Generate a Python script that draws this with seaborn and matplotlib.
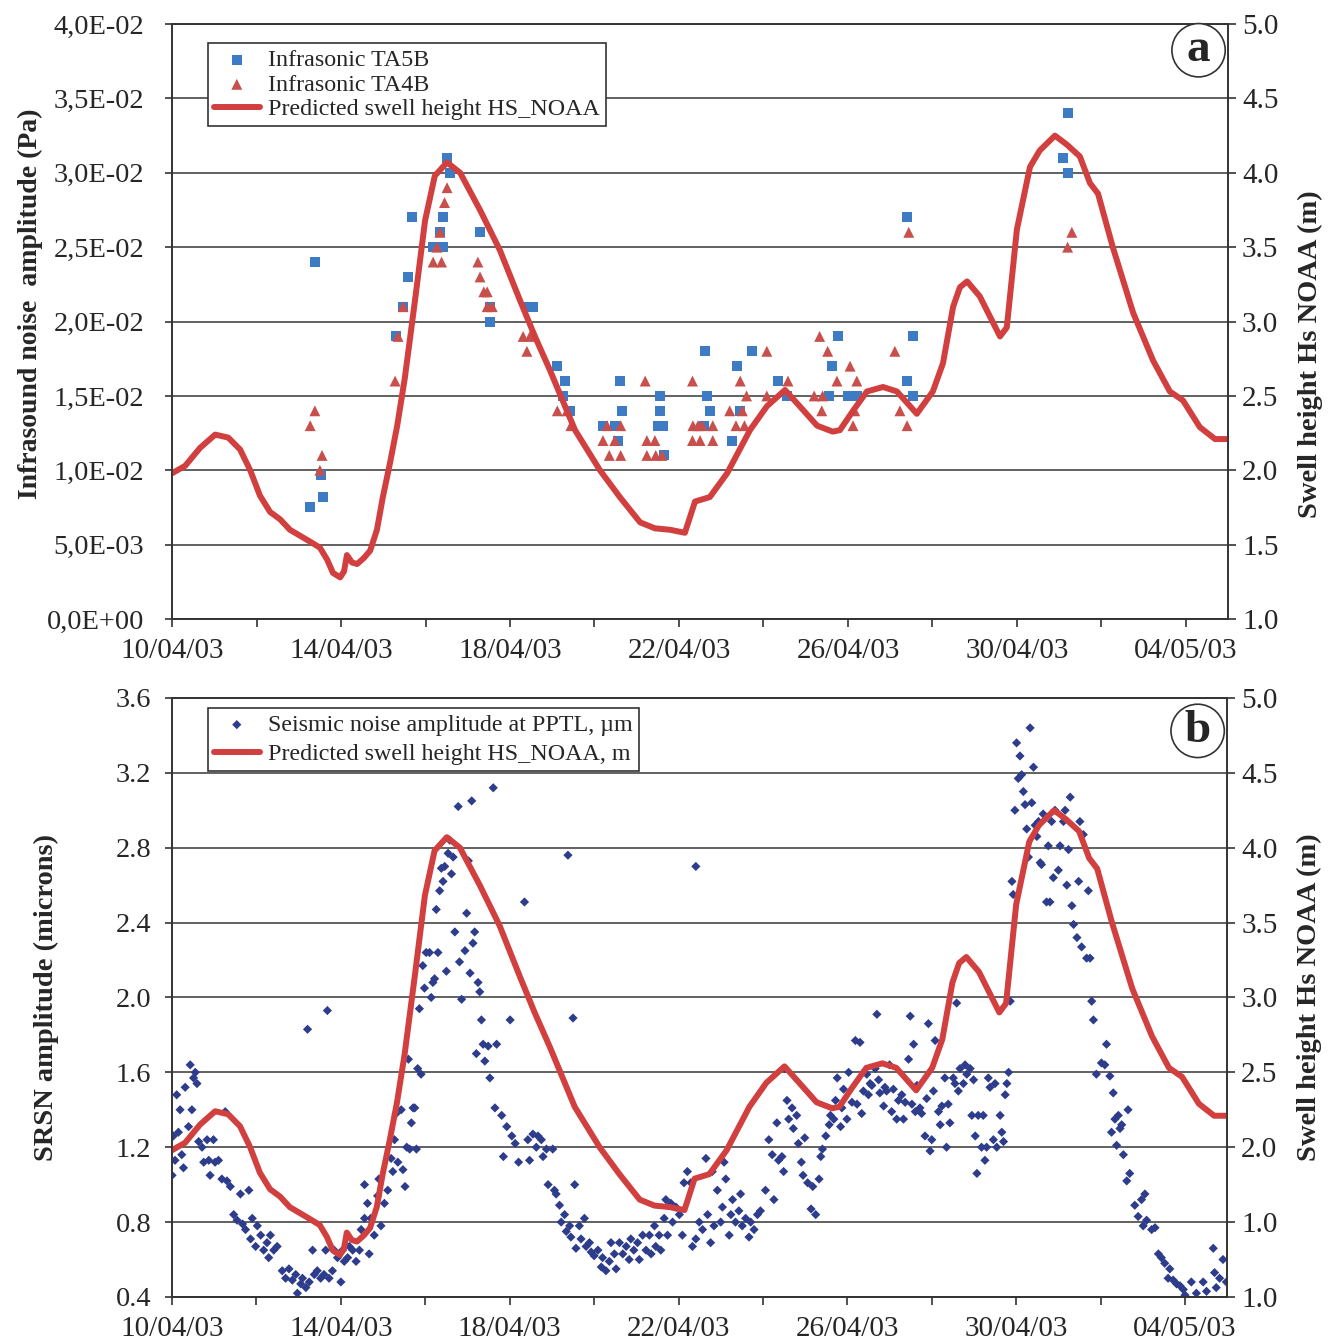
import numpy as np
import pandas as pd
import seaborn as sns
import matplotlib
matplotlib.use('Agg')
import matplotlib.pyplot as plt

# ------------------------------------------------------------
# data (x in days after 10/04/03 00:00)
# ------------------------------------------------------------
start = pd.Timestamp('2003-04-10')
date_labels = ['10/04/03', '14/04/03', '18/04/03', '22/04/03',
               '26/04/03', '30/04/03', '04/05/03']

# predicted swell height HS_NOAA (m)
swell_day = [0.0, 0.31, 0.66, 1.02, 1.33, 1.61, 1.85, 2.08, 2.32, 2.56,
             2.79, 3.03, 3.27, 3.50, 3.67, 3.81, 3.98, 4.07, 4.14, 4.26,
             4.38, 4.54, 4.69, 4.85, 4.99, 5.16, 5.33, 5.51, 5.75, 5.99,
             6.22, 6.51, 6.82, 7.29, 7.76, 8.24, 8.59, 8.95, 9.54, 10.13,
             10.60, 11.08, 11.43, 11.79, 12.14, 12.38, 12.73, 13.14, 13.68, 14.08,
             14.51, 14.86, 15.27, 15.64, 15.81, 16.12, 16.45, 16.83, 17.16, 17.63,
             18.01, 18.25, 18.49, 18.65, 18.82, 19.12, 19.60, 19.76, 20.00, 20.31,
             20.54, 20.90, 21.18, 21.49, 21.73, 21.92, 22.27, 22.75, 23.22, 23.62,
             23.93, 24.33, 24.69, 25.0]
swell_hs = [1.98, 2.03, 2.15, 2.24, 2.22, 2.14, 2.00, 1.83, 1.72, 1.67,
            1.60, 1.56, 1.52, 1.48, 1.40, 1.31, 1.28, 1.32, 1.43, 1.38,
            1.37, 1.41, 1.46, 1.60, 1.82, 2.05, 2.30, 2.62, 3.14, 3.68,
            3.98, 4.07, 4.00, 3.75, 3.48, 3.14, 2.90, 2.67, 2.27, 2.00,
            1.82, 1.65, 1.61, 1.60, 1.58, 1.79, 1.82, 1.98, 2.27, 2.43,
            2.54, 2.43, 2.30, 2.26, 2.27, 2.40, 2.53, 2.56, 2.53, 2.38,
            2.53, 2.72, 3.10, 3.23, 3.27, 3.17, 2.90, 2.96, 3.62, 4.04,
            4.15, 4.25, 4.19, 4.11, 3.93, 3.86, 3.50, 3.06, 2.74, 2.53,
            2.47, 2.29, 2.21, 2.21]

# infrasound amplitude (Pa)
ta5b_day = [3.27, 3.38, 3.52, 3.58, 5.30, 5.47, 5.59, 5.69, 6.18, 6.34,
            6.41, 6.51, 6.58, 6.41, 7.29, 7.53, 7.53, 8.54, 8.42, 9.12,
            9.30, 9.26, 9.42, 10.20, 10.48, 10.60, 10.65, 10.55, 11.55, 11.55,
            11.50, 11.62, 11.65, 12.62, 12.66, 12.73, 12.60, 13.37, 13.25, 13.45,
            13.73, 14.34, 14.55, 15.76, 15.62, 15.55, 16.21, 16.00, 17.40, 17.40,
            17.55, 17.55, 21.20, 21.08, 21.20]
ta5b_amp = [0.0075, 0.024, 0.0097, 0.0082, 0.019, 0.021, 0.023, 0.027, 0.025, 0.026,
            0.027, 0.031, 0.030, 0.025, 0.026, 0.020, 0.021, 0.021, 0.021, 0.017,
            0.016, 0.015, 0.014, 0.013, 0.013, 0.016, 0.014, 0.012, 0.015, 0.014,
            0.013, 0.013, 0.011, 0.018, 0.015, 0.014, 0.013, 0.017, 0.012, 0.014,
            0.018, 0.016, 0.015, 0.019, 0.017, 0.015, 0.015, 0.015, 0.027, 0.016,
            0.019, 0.015, 0.034, 0.031, 0.030]
ta4b_day = [3.27, 3.38, 3.55, 3.50, 5.28, 5.35, 5.47, 6.18, 6.38, 6.27,
            6.34, 6.45, 6.51, 7.24, 7.29, 7.46, 7.46, 7.58, 7.38, 8.31,
            8.40, 8.47, 9.12, 9.44, 9.35, 10.20, 10.35, 10.48, 10.62, 10.62,
            10.30, 11.20, 11.24, 11.43, 11.24, 11.45, 11.60, 12.32, 12.33, 12.45,
            12.55, 12.80, 12.32, 12.50, 12.80, 13.45, 13.60, 13.20, 13.50, 13.35,
            13.55, 14.08, 14.58, 14.08, 15.33, 15.52, 16.05, 15.74, 16.21, 15.20,
            15.40, 15.38, 16.16, 16.12, 17.11, 17.23, 17.40, 17.44, 21.30, 21.20]
ta4b_amp = [0.013, 0.014, 0.011, 0.010, 0.016, 0.019, 0.021, 0.024, 0.024, 0.025,
            0.026, 0.028, 0.029, 0.024, 0.023, 0.022, 0.021, 0.021, 0.022, 0.019,
            0.018, 0.019, 0.014, 0.013, 0.014, 0.012, 0.011, 0.012, 0.011, 0.013,
            0.013, 0.016, 0.012, 0.012, 0.011, 0.011, 0.011, 0.016, 0.013, 0.013,
            0.013, 0.013, 0.012, 0.012, 0.012, 0.016, 0.015, 0.014, 0.014, 0.013,
            0.013, 0.018, 0.016, 0.015, 0.019, 0.018, 0.017, 0.016, 0.016, 0.015,
            0.015, 0.014, 0.014, 0.013, 0.018, 0.014, 0.013, 0.026, 0.026, 0.025]

# seismic noise amplitude at PPTL (microns)
seis_day = [
    0.00, 0.03, 0.07, 0.11, 0.15, 0.19, 0.23, 0.27, 0.31, 0.39, 0.43, 0.47, 0.51, 0.55, 0.59,
    0.63, 0.71, 0.75, 0.83, 0.87, 0.90, 0.98, 1.02, 1.10, 1.18, 1.26, 1.30, 1.38, 1.46, 1.54,
    1.62, 1.67, 1.74, 1.82, 1.86, 1.90, 1.98, 2.02, 2.10, 2.17, 2.25, 2.29, 2.33, 2.41, 2.49,
    2.61, 2.69, 2.77, 2.85, 2.93, 2.97, 3.05, 3.09, 3.17, 3.21, 3.25, 3.33, 3.37, 3.44, 3.52,
    3.60, 3.64, 3.68, 3.72, 3.80, 3.84, 3.92, 4.00, 4.04, 4.08, 4.16, 4.20, 4.28, 4.36, 4.44,
    4.48, 4.56, 4.56, 4.63, 4.67, 4.71, 4.79, 4.87, 4.90, 4.95, 5.03, 5.11, 5.19, 5.23, 5.27,
    5.31, 5.35, 5.43, 5.47, 5.52, 5.56, 5.60, 5.63, 5.67, 5.71, 5.75, 5.79, 5.82, 5.86, 5.90,
    5.94, 5.98, 6.02, 6.10, 6.14, 6.18, 6.22, 6.26, 6.30, 6.34, 6.38, 6.42, 6.46, 6.50, 6.54,
    6.58, 6.62, 6.66, 6.70, 6.78, 6.81, 6.86, 6.94, 6.98, 7.02, 7.06, 7.10, 7.13, 7.17, 7.21,
    7.25, 7.29, 7.33, 7.37, 7.41, 7.49, 7.53, 7.61, 7.65, 7.69, 7.81, 7.85, 7.93, 8.01, 8.05,
    8.13, 8.21, 8.35, 8.43, 8.47, 8.55, 8.63, 8.67, 8.75, 8.79, 8.87, 8.91, 9.02, 9.06, 9.10,
    9.18, 9.22, 9.30, 9.34, 9.38, 9.42, 9.45, 9.50, 9.54, 9.57, 9.65, 9.69, 9.77, 9.81, 9.89,
    9.93, 10.00, 10.09, 10.17, 10.20, 10.28, 10.36, 10.40, 10.48, 10.52, 10.60, 10.68, 10.76, 10.83, 10.87,
    10.94, 11.03, 11.07, 11.15, 11.23, 11.31, 11.35, 11.43, 11.46, 11.54, 11.58, 11.66, 11.70, 11.74, 11.82,
    11.86, 11.94, 12.02, 12.09, 12.13, 12.21, 12.29, 12.33, 12.41, 12.41, 12.49, 12.57, 12.65, 12.69, 12.76,
    12.80, 12.84, 12.92, 13.00, 13.04, 13.08, 13.12, 13.20, 13.24, 13.28, 13.35, 13.43, 13.47, 13.51, 13.59,
    13.67, 13.71, 13.79, 13.87, 13.94, 14.06, 14.14, 14.22, 14.26, 14.33, 14.37, 14.45, 14.49, 14.52, 14.57,
    14.61, 14.69, 14.72, 14.80, 14.84, 14.91, 14.95, 14.99, 15.06, 15.14, 15.18, 15.25, 15.33, 15.37, 15.41,
    15.49, 15.57, 15.60, 15.68, 15.72, 15.76, 15.84, 15.87, 15.91, 15.99, 16.03, 16.11, 16.19, 16.23, 16.30,
    16.34, 16.38, 16.46, 16.50, 16.54, 16.58, 16.66, 16.70, 16.74, 16.77, 16.86, 16.89, 16.93, 17.00, 17.05,
    17.09, 17.17, 17.21, 17.29, 17.33, 17.37, 17.45, 17.49, 17.53, 17.57, 17.61, 17.65, 17.72, 17.76, 17.84,
    17.88, 17.92, 17.96, 18.00, 18.04, 18.08, 18.16, 18.20, 18.24, 18.31, 18.35, 18.39, 18.43, 18.51, 18.55,
    18.59, 18.63, 18.67, 18.75, 18.79, 18.83, 18.91, 18.95, 18.99, 19.03, 19.07, 19.10, 19.18, 19.22, 19.26,
    19.30, 19.34, 19.38, 19.46, 19.50, 19.54, 19.62, 19.66, 19.70, 19.74, 19.78, 19.82, 19.86, 19.90, 19.93,
    19.97, 20.01, 20.05, 20.09, 20.13, 20.17, 20.21, 20.25, 20.29, 20.33, 20.37, 20.41, 20.45, 20.49, 20.53,
    20.57, 20.60, 20.64, 20.72, 20.76, 20.80, 20.84, 20.88, 20.92, 21.00, 21.04, 21.12, 21.16, 21.20, 21.24,
    21.28, 21.32, 21.36, 21.44, 21.48, 21.51, 21.55, 21.59, 21.67, 21.71, 21.75, 21.79, 21.83, 21.90, 22.02,
    22.10, 22.14, 22.22, 22.30, 22.65, 22.42, 22.34, 22.50, 22.46, 22.26, 22.38, 22.54, 22.69, 22.62, 23.05,
    22.97, 22.81, 22.89, 23.09, 23.01, 23.29, 23.21, 23.37, 23.44, 23.52, 23.64, 23.60, 23.72, 23.80, 23.88,
    23.96, 24.00, 24.15, 24.27, 24.43, 24.51, 24.67, 24.70, 24.74, 24.82, 24.90, 24.98]
seis_amp = [
    1.05, 1.26, 1.13, 1.48, 1.28, 1.40, 1.16, 1.09, 1.52, 1.31, 1.64, 1.40, 1.57, 1.60, 1.54,
    1.23, 1.20, 1.12, 1.24, 1.13, 1.05, 1.24, 1.12, 1.13, 1.03, 1.39, 1.02, 0.99, 0.84, 0.81,
    0.95, 0.79, 0.76, 0.97, 0.71, 0.82, 0.67, 0.78, 0.73, 0.65, 0.69, 0.61, 0.73, 0.65, 0.67,
    0.54, 0.50, 0.55, 0.49, 0.52, 0.42, 0.47, 0.50, 0.45, 1.83, 0.48, 0.65, 0.52, 0.54, 0.50,
    0.52, 0.65, 1.93, 0.50, 0.54, 0.65, 0.61, 0.48, 0.65, 0.59, 0.61, 0.67, 0.65, 0.59, 0.65,
    0.76, 0.82, 1.00, 0.90, 0.63, 0.82, 0.73, 0.94, 1.03, 0.78, 0.90, 0.97, 1.14, 1.07, 1.24,
    1.38, 1.12, 1.40, 1.08, 0.99, 1.20, 1.67, 1.19, 1.33, 1.41, 1.41, 1.19, 1.62, 1.94, 1.59,
    2.17, 2.05, 2.24, 2.24, 2.00, 2.08, 2.10, 2.47, 2.24, 2.57, 2.69, 2.62, 2.70, 2.14, 2.77,
    2.84, 2.66, 2.75, 2.35, 3.02, 2.19, 1.99, 2.25, 2.45, 2.73, 2.13, 3.05, 2.29, 2.35, 1.70,
    2.08, 2.03, 1.88, 1.75, 1.66, 1.74, 1.57, 3.12, 1.41, 1.75, 1.37, 1.15, 1.31, 1.88, 1.26,
    1.22, 1.12, 2.51, 1.24, 1.13, 1.27, 1.20, 1.26, 1.24, 1.15, 1.19, 1.00, 1.19, 0.97, 0.95,
    0.89, 0.80, 0.84, 0.75, 2.76, 0.78, 0.72, 1.89, 1.00, 0.66, 0.78, 0.71, 0.82, 0.67, 0.69,
    0.64, 0.62, 0.65, 0.56, 0.61, 0.54, 0.59, 0.69, 0.63, 0.55, 0.69, 0.63, 0.67, 0.60, 0.71,
    0.65, 0.69, 0.60, 0.73, 0.65, 0.73, 0.63, 0.78, 0.67, 0.73, 0.65, 0.82, 0.92, 0.73, 0.90,
    0.80, 0.88, 0.84, 0.73, 1.01, 1.07, 1.01, 0.67, 2.70, 0.71, 0.80, 0.76, 1.14, 0.84, 0.69,
    1.07, 0.78, 0.97, 0.80, 0.88, 1.12, 1.03, 0.73, 0.84, 0.92, 0.80, 0.86, 0.95, 0.78, 0.82,
    0.72, 0.80, 0.76, 0.84, 0.86, 0.97, 1.24, 1.16, 0.92, 1.33, 1.13, 1.15, 1.07, 1.62, 1.45,
    1.35, 1.41, 1.30, 1.37, 1.22, 1.12, 1.05, 1.25, 1.01, 0.87, 0.99, 0.84, 1.03, 1.15, 1.19,
    1.26, 1.32, 1.37, 1.35, 1.45, 1.57, 1.31, 1.41, 1.51, 1.35, 1.60, 1.44, 1.77, 1.43, 1.76,
    1.38, 1.50, 1.59, 1.48, 1.54, 1.53, 1.62, 1.91, 1.56, 1.49, 1.42, 1.52, 1.50, 1.64, 1.39,
    1.51, 1.35, 1.45, 1.48, 1.35, 1.44, 1.67, 1.90, 1.43, 1.75, 1.39, 1.53, 1.41, 1.38, 1.26,
    1.46, 1.86, 1.18, 1.24, 1.50, 1.77, 1.39, 1.32, 1.42, 1.57, 1.20, 1.43, 1.33, 1.57, 1.54,
    1.97, 1.50, 1.62, 1.54, 1.64, 1.59, 1.62, 1.37, 1.56, 1.26, 1.06, 1.37, 1.20, 1.37, 1.13,
    1.20, 1.57, 1.52, 1.24, 1.54, 1.20, 1.37, 1.28, 1.23, 1.48, 1.54, 1.60, 1.98, 2.62, 2.55,
    3.00, 3.36, 3.17, 3.29, 3.19, 3.10, 3.03, 2.90, 2.75, 3.44, 3.04, 3.23, 2.92, 2.86, 2.94,
    2.72, 2.71, 2.98, 2.51, 2.81, 2.51, 2.94, 2.64, 3.00, 2.68, 2.81, 2.94, 3.00, 2.60, 2.79,
    3.07, 2.49, 2.39, 2.32, 2.62, 2.94, 2.27, 2.87, 2.21, 2.57, 2.21, 1.98, 1.88, 1.59, 1.65,
    1.64, 1.75, 1.58, 1.49, 1.40, 1.37, 1.35, 1.32, 1.30, 1.28, 1.21, 1.16, 1.06, 1.02, 0.95,
    0.92, 0.89, 0.83, 0.81, 0.78, 0.77, 0.76, 0.63, 0.61, 0.58, 0.55, 0.50, 0.49, 0.47, 0.46,
    0.44, 0.41, 0.48, 0.42, 0.48, 0.43, 0.66, 0.53, 0.45, 0.50, 0.60, 0.48]

right_a_labels = ['1.0', '1.5', '2.0', '2.5', '3.0', '3.5', '4.0', '4.5', '5.0']
right_b_labels = ['1.0', '1.0', '2.0', '2.5', '3.0', '3.5', '4.0', '4.5', '5.0']


def to_dates(days):
    return start + pd.to_timedelta(np.asarray(days, dtype=float), unit='D')


df_swell = pd.DataFrame({'date': to_dates(swell_day), 'hs': swell_hs})
df_ta5b = pd.DataFrame({'date': to_dates(ta5b_day), 'amp': ta5b_amp})
df_ta4b = pd.DataFrame({'date': to_dates(ta4b_day), 'amp': ta4b_amp})
df_seis = pd.DataFrame({'date': to_dates(seis_day), 'amp': seis_amp})

tick_dates = pd.to_datetime(date_labels, format='%d/%m/%y')
minor_dates = tick_dates[:-1] + pd.Timedelta(days=2)

# ------------------------------------------------------------
# style
# ------------------------------------------------------------
sns.set_style('white')
plt.rcParams['font.family'] = ['Liberation Serif', 'DejaVu Serif']
plt.rcParams['axes.edgecolor'] = '#333333'

c_blue = '#3d7cc4'
c_red_pt = '#c8504c'
c_line = '#d23f3f'
c_seis = '#2e3c8c'
c_grid = '#555555'

fig = plt.figure(figsize=(13.39, 13.44), dpi=100)
ax_a = fig.add_axes([0.1285, 0.5394, 0.7887, 0.4427])
ax_b = fig.add_axes([0.1285, 0.0350, 0.7880, 0.4457])

# ---------------- panel a ----------------
sns.scatterplot(data=df_ta5b, x='date', y='amp', marker='s', s=52, color=c_blue,
                edgecolor='none', ax=ax_a, label='Infrasonic TA5B', zorder=3)
sns.scatterplot(data=df_ta4b, x='date', y='amp', marker='^', s=62, color=c_red_pt,
                edgecolor='none', ax=ax_a, label='Infrasonic TA4B', zorder=3)
ax_a2 = ax_a.twinx()
sns.lineplot(data=df_swell, x='date', y='hs', color=c_line, lw=4.3, ax=ax_a2,
             label='Predicted swell height HS_NOAA', sort=False, estimator=None)

# ---------------- panel b ----------------
sns.scatterplot(data=df_seis, x='date', y='amp', marker='D', s=22, color=c_seis,
                edgecolor='none', ax=ax_b, label='Seismic noise amplitude at PPTL, µm',
                zorder=3)
ax_b2 = ax_b.twinx()
sns.lineplot(data=df_swell, x='date', y='hs', color=c_line, lw=4.3, ax=ax_b2,
             label='Predicted swell height HS_NOAA, m', sort=False, estimator=None)

for ax in (ax_a, ax_a2, ax_b, ax_b2):
    if ax.get_legend() is not None:
        ax.get_legend().remove()
    ax.set_xlabel('')
    ax.set_xlim(start, start + pd.Timedelta(days=25))
    for sp in ax.spines.values():
        sp.set_visible(True)
        sp.set_color('#333333')
        sp.set_linewidth(1.2)

for ax in (ax_a, ax_b):
    ax.set_xticks(tick_dates)
    ax.set_xticklabels(date_labels)
    ax.set_xticks(minor_dates, minor=True)
    ax.tick_params(axis='x', which='both', direction='out', length=6, width=1.2,
                   color='#333333', labelsize=21, pad=8, bottom=True)
    ax.tick_params(axis='y', direction='out', length=5, width=1.2, color='#333333',
                   labelsize=20.5, left=True)
    ax.yaxis.grid(True, color=c_grid, lw=1.3)
    ax.xaxis.grid(False)
    ax.set_axisbelow(True)

for ax in (ax_a2, ax_b2):
    ax.set_ylim(1.0, 5.0)
    ax.set_yticks(np.arange(1.0, 5.01, 0.5))
    ax.tick_params(axis='y', direction='out', length=6, width=1.2, color='#333333',
                   labelsize=21, pad=4, right=True)
    ax.grid(False)
ax_a2.set_yticklabels(right_a_labels)
ax_b2.set_yticklabels(right_b_labels)

# left axes
ax_a.set_ylim(0, 0.04)
ax_a.set_yticks(np.arange(0, 0.04001, 0.005))
ax_a.set_yticklabels([f'{v:.1E}'.replace('.', ',') for v in np.arange(0, 0.04001, 0.005)])
ax_a.tick_params(axis='y', pad=15)
ax_b.set_ylim(0.4, 3.6)
ax_b.set_yticks(np.arange(0.4, 3.601, 0.4))
ax_b.set_yticklabels([f'{v:.1f}' for v in np.arange(0.4, 3.601, 0.4)])
ax_b.tick_params(axis='y', pad=10)

# axis labels
ax_a.set_ylabel('Infrasound noise  amplitude (Pa)', fontsize=20, fontweight='bold')
ax_a.yaxis.set_label_coords(-0.122, 0.53)
ax_b.set_ylabel('SRSN amplitude (microns)', fontsize=20.5, fontweight='bold')
ax_b.yaxis.set_label_coords(-0.107, 0.50)
for ax2, yc in ((ax_a2, 0.445), (ax_b2, 0.50)):
    ax2.set_ylabel('Swell height Hs NOAA (m)', fontsize=20.5, fontweight='bold')
    ax2.yaxis.set_label_coords(1.066, yc)

# legends
h1, l1 = ax_a.get_legend_handles_labels()
h2, l2 = ax_a2.get_legend_handles_labels()
leg = ax_a2.legend(h1 + h2, l1 + l2, loc='upper left', bbox_to_anchor=(0.034, 0.968),
                   fontsize=17.3, frameon=True, fancybox=False, edgecolor='#333333',
                   framealpha=1, borderpad=0.25, labelspacing=0.12, handlelength=1.9,
                   handletextpad=0.35, borderaxespad=0, scatterpoints=1)
leg.get_frame().set_linewidth(1.2)

h1, l1 = ax_b.get_legend_handles_labels()
h2, l2 = ax_b2.get_legend_handles_labels()
leg = ax_b2.legend(h1 + h2, l1 + l2, loc='upper left', bbox_to_anchor=(0.034, 0.983),
                   fontsize=17.3, frameon=True, fancybox=False, edgecolor='#333333',
                   framealpha=1, borderpad=0.25, labelspacing=0.3, handlelength=1.9,
                   handletextpad=0.35, borderaxespad=0, scatterpoints=1)
leg.get_frame().set_linewidth(1.2)

# panel letters
for ax2, letter, yc in ((ax_a2, 'a', 0.956), (ax_b2, 'b', 0.945)):
    ax2.text(0.972, yc, letter, transform=ax2.transAxes, fontsize=34, fontweight='bold',
             ha='center', va='center',
             bbox=dict(boxstyle='circle,pad=0.12', fc='white', ec='#333333', lw=1.2))

fig.savefig('out.png', dpi=100)
